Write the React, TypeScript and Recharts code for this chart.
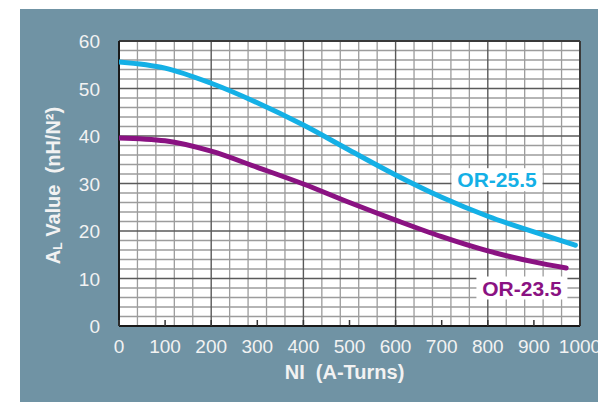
import React from 'react';
import { LineChart, Line, XAxis, YAxis, ReferenceLine, ReferenceArea, ReferenceDot } from 'recharts';

// NI (A-Turns) sample points and AL values (nH/N²)
const niOR255 = [0, 100, 200, 300, 400, 500, 600, 700, 800, 900, 990];
const alOR255 = [55.6, 54.3, 51.1, 47.0, 42.3, 37.0, 31.8, 27.1, 23.1, 19.8, 17.0];
const niOR235 = [0, 100, 200, 300, 400, 500, 600, 700, 800, 900, 970];
const alOR235 = [39.6, 39.0, 36.8, 33.4, 29.9, 26.0, 22.3, 18.8, 15.8, 13.5, 12.2];

const xTicks = [0, 100, 200, 300, 400, 500, 600, 700, 800, 900, 1000];
const yTicks = [0, 10, 20, 30, 40, 50, 60];
const xMinorGrid = [40, 80, 120, 160, 240, 280, 320, 360, 440, 480, 520, 560, 640, 680, 720, 760, 840, 880, 920, 960];
const xMajorGrid = [200, 400, 600, 800];
const yMinorGrid = [2, 4, 6, 8, 12, 14, 16, 18, 22, 24, 26, 28, 32, 34, 36, 38, 42, 44, 46, 48, 52, 54, 56, 58];
const yMajorGrid = [10, 20, 30, 40, 50];

const seriesNames = ['OR-25.5', 'OR-23.5'];
const labelAnchors = [
  { x: 820, y: 30.8 },
  { x: 874, y: 8.0 },
];

const dataOR255 = niOR255.map((ni, i) => ({ ni, al: alOR255[i] }));
const dataOR235 = niOR235.map((ni, i) => ({ ni, al: alOR235[i] }));

const BLUE = '#14b0e6';
const PURPLE = '#8a1282';
const PANEL = '#7093a4';
const FONT = '"Liberation Sans", Arial, Helvetica, sans-serif';

const XTick = (props: any) => {
  const { x, y, payload } = props;
  return (
    <text x={x} y={y + 33} textAnchor="middle" fill="#f2f2f2" fontSize={19} fontFamily={FONT}>
      {payload.value}
    </text>
  );
};

const YTick = (props: any) => {
  const { x, y, payload } = props;
  return (
    <text x={x} y={y + 7} textAnchor="end" fill="#f2f2f2" fontSize={19} fontFamily={FONT}>
      {payload.value}
    </text>
  );
};

const XTitle = (props: any) => {
  const { viewBox } = props;
  const cx = viewBox.x + viewBox.width / 2 - 5;
  return (
    <text x={cx} y={viewBox.y + 53} textAnchor="middle" fill="#f2f2f2" fontSize={20} fontWeight="bold" fontFamily={FONT} style={{ whiteSpace: 'pre' }}>
      {'NI\u00a0\u00a0(A-Turns)'}
    </text>
  );
};

const YTitle = (props: any) => {
  const { viewBox } = props;
  const cx = 53;
  const cy = viewBox.y + viewBox.height / 2 + 2;
  return (
    <text x={cx} y={cy} transform={`rotate(-90, ${cx}, ${cy})`} textAnchor="middle" dominantBaseline="central" fill="#f2f2f2" fontSize={20} fontWeight="bold" fontFamily={FONT}>
      A<tspan fontSize={12} dy={5}>L</tspan>
      <tspan dy={-5}>{'\u00a0Value\u00a0\u00a0(nH/N²)'}</tspan>
    </text>
  );
};

const makeTag = (text: string, color: string) => (props: any) => {
  const { viewBox } = props;
  const cx = viewBox.x + (viewBox.width || 0) / 2;
  const cy = viewBox.y + (viewBox.height || 0) / 2;
  const w = 91;
  const h = 23;
  return (
    <g>
      <rect x={cx - w / 2} y={cy - h / 2} width={w} height={h} fill="#ffffff" />
      <text x={cx} y={cy + 7.5} textAnchor="middle" fill={color} fontSize={21} fontWeight="bold" fontFamily={FONT}>
        {text}
      </text>
    </g>
  );
};

const Tag255 = makeTag(seriesNames[0], BLUE);
const Tag235 = makeTag(seriesNames[1], PURPLE);

export default function App() {
  return (
    <div style={{ position: 'absolute', left: 0, top: 0, width: 598, height: 402, background: '#ffffff' }}>
      <div style={{ position: 'absolute', left: 20, top: 9, width: 578, height: 393, background: PANEL }} />
      <div style={{ position: 'absolute', left: 0, top: 0 }}>
        <LineChart width={598} height={402} margin={{ top: 41, right: 18, bottom: 46, left: 59 }}>
          <XAxis
            dataKey="ni"
            type="number"
            domain={[0, 1000]}
            ticks={xTicks}
            interval={0}
            allowDataOverflow
            height={30}
            tickSize={-6}
            tickMargin={0}
            tickLine={{ stroke: '#333', strokeWidth: 1.5 }}
            axisLine={false}
            tick={<XTick />}
            label={<XTitle />}
          />
          <YAxis
            type="number"
            domain={[0, 60]}
            ticks={yTicks}
            interval={0}
            width={60}
            tickSize={0}
            tickMargin={19}
            tickLine={false}
            axisLine={false}
            tick={<YTick />}
            label={<YTitle />}
          />
          <ReferenceArea x1={0} x2={1000} y1={0} y2={60} fill="#ffffff" fillOpacity={1} stroke="none" />
          {xMinorGrid.map((v) => (
            <ReferenceLine key={'xm' + v} x={v} stroke="#9c9c9c" strokeWidth={1.3} />
          ))}
          {yMinorGrid.map((v) => (
            <ReferenceLine key={'ym' + v} y={v} stroke="#9c9c9c" strokeWidth={1.3} />
          ))}
          {xMajorGrid.map((v) => (
            <ReferenceLine key={'xM' + v} x={v} stroke="#5a5a5a" strokeWidth={1.4} />
          ))}
          {yMajorGrid.map((v) => (
            <ReferenceLine key={'yM' + v} y={v} stroke="#5a5a5a" strokeWidth={1.4} />
          ))}
          <ReferenceLine y={60} stroke="#3a3a3a" strokeWidth={2} />
          <ReferenceLine x={1000} stroke="#3a3a3a" strokeWidth={2} />
          <ReferenceLine y={0} stroke="#1a1a1a" strokeWidth={2} />
          <ReferenceLine x={0} stroke="#1a1a1a" strokeWidth={2} />
          <Line
            data={dataOR255}
            dataKey="al"
            type="monotone"
            stroke={BLUE}
            strokeWidth={5}
            strokeLinecap="round"
            dot={false}
            activeDot={false}
            isAnimationActive={false}
          />
          <Line
            data={dataOR235}
            dataKey="al"
            type="monotone"
            stroke={PURPLE}
            strokeWidth={5}
            strokeLinecap="round"
            dot={false}
            activeDot={false}
            isAnimationActive={false}
          />
          <ReferenceDot x={labelAnchors[0].x} y={labelAnchors[0].y} r={0} stroke="none" fill="none" label={<Tag255 />} />
          <ReferenceDot x={labelAnchors[1].x} y={labelAnchors[1].y} r={0} stroke="none" fill="none" label={<Tag235 />} />
        </LineChart>
      </div>
    </div>
  );
}
